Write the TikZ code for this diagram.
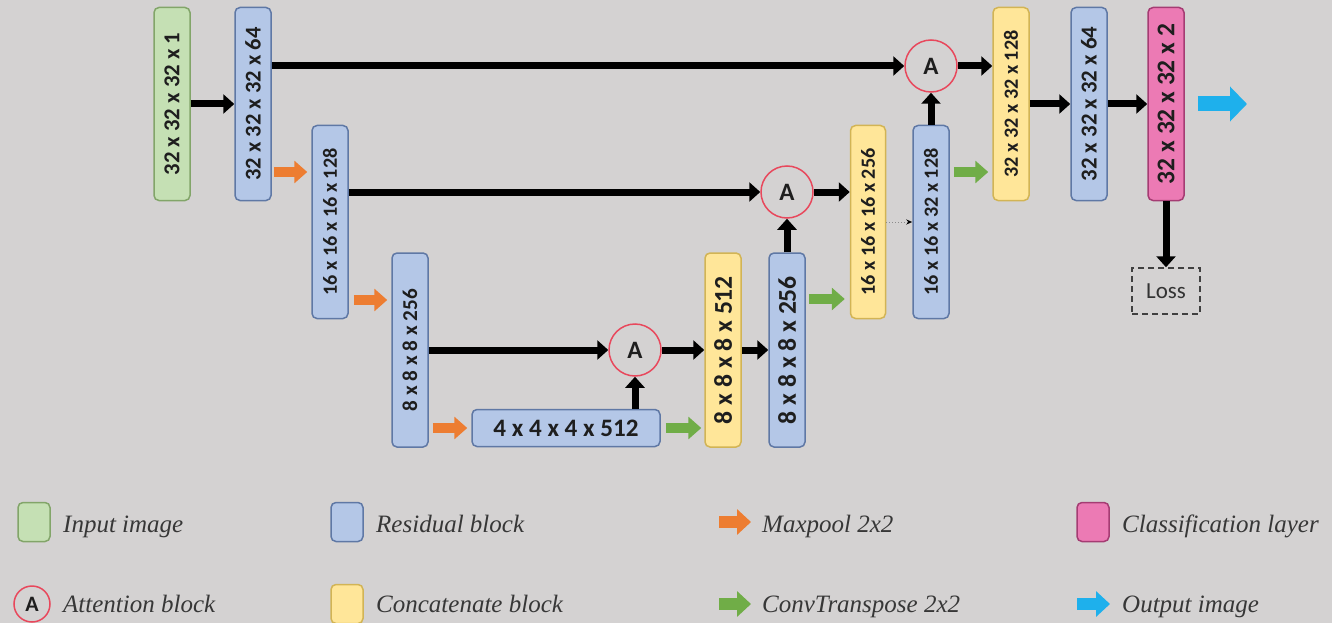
\documentclass[tikz,border=0pt]{standalone}
\usepackage{fontspec}
\setmainfont{Carlito}
\newfontfamily\legfont{Liberation Serif}
\usetikzlibrary{arrows.meta,calc}
\definecolor{bg}{RGB}{212,210,210}
\definecolor{gfill}{RGB}{197,224,180}
\definecolor{gdraw}{RGB}{130,165,105}
\definecolor{bfill}{RGB}{180,199,231}
\definecolor{bdraw}{RGB}{95,120,165}
\definecolor{yfill}{RGB}{255,230,153}
\definecolor{ydraw}{RGB}{210,180,85}
\definecolor{pfill}{RGB}{236,122,180}
\definecolor{pdraw}{RGB}{165,60,115}
\definecolor{ared}{RGB}{232,72,92}
\definecolor{orng}{RGB}{237,125,49}
\definecolor{grn}{RGB}{112,173,71}
\definecolor{cyn}{RGB}{30,176,236}
\definecolor{txt}{RGB}{30,30,30}
\definecolor{legtxt}{RGB}{55,55,55}
\newcommand\vt[2]{\rotatebox{90}{\resizebox{#1pt}{!}{\bfseries #2}}}
\tikzset{
  box/.style={draw, rounded corners=5pt, line width=1.5pt, minimum width=36pt, minimum height=193pt, inner sep=0pt, text=txt},
  gbox/.style={fill=gfill, draw=gdraw},
  bbox/.style={fill=bfill, draw=bdraw},
  ybox/.style={fill=yfill, draw=ydraw},
  pbox/.style={fill=pfill, draw=pdraw},
  att/.style={circle, draw=ared, line width=1.5pt, minimum size=52pt, inner sep=0pt, font=\bfseries\fontsize{25}{25}\selectfont, text=txt},
  blk/.style={line width=7pt, draw=black, -{Triangle[length=11pt,width=19pt]}},
  fat/.style={line width=10pt, draw=#1, -{Triangle[length=13pt,width=22pt]}},
  legarrow/.style={line width=12pt, draw=#1, -{Triangle[length=14pt,width=25pt]}},
  legsq/.style={draw, rounded corners=5pt, line width=1.5pt, minimum width=32pt, minimum height=39pt, inner sep=0pt},
  legtext/.style={anchor=base west, inner sep=0pt, text=legtxt, font=\legfont\itshape\fontsize{25}{25}\selectfont},
}
\begin{document}
\begin{tikzpicture}[x=1pt,y=-1pt]
\fill[bg] (0,0) rectangle (1332,623);
\useasboundingbox (0,0) rectangle (1332,623);

% blocks
\node[box,gbox] (in) at (172,104) {\vt{143}{32 x 32 x 32 x 1}};
\node[box,bbox] (r1) at (253,104) {\vt{153}{32 x 32 x 32 x 64}};
\node[box,bbox] (r2) at (330,222) {\vt{147}{16 x 16 x 16 x 128}};
\node[box,bbox,minimum height=194pt] (r3) at (410,350) {\vt{122}{8 x 8 x 8 x 256}};
\node[box,bbox,minimum width=188pt,minimum height=37pt] (r4) at (566,428) {\resizebox{145pt}{!}{\bfseries 4 x 4 x 4 x 512}};
\node[att] (a1) at (635,350) {A};
\node[box,ybox,minimum height=194pt] (c1) at (723,350) {\vt{148}{8 x 8 x 8 x 512}};
\node[box,bbox,minimum height=194pt] (r5) at (787,350) {\vt{148}{8 x 8 x 8 x 256}};
\node[att] (a2) at (787,192) {A};
\node[box,ybox,minimum width=35pt] (c2) at (868,222) {\vt{147}{16 x 16 x 16 x 256}};
\node[box,bbox] (r6) at (931,222) {\vt{147}{16 x 16 x 32 x 128}};
\node[att] (a3) at (931,66) {A};
\node[box,ybox] (c3) at (1011,104) {\vt{147}{32 x 32 x 32 x 128}};
\node[box,bbox] (r7) at (1089,104) {\vt{155}{32 x 32 x 32 x 64}};
\node[box,pbox] (p) at (1166,104) {\vt{160}{32 x 32 x 32 x 2}};
\node[draw=black!75, dashed, dash pattern=on 6pt off 4pt, line width=1.5pt, minimum width=68pt, minimum height=46pt, inner sep=0pt, text=black!80, font=\fontsize{23}{23}\selectfont] (loss) at (1166,291) {Loss};
\coordinate (out) at (1247,104);

% black connectors
\draw[blk] (in) -- (r1);
\draw[blk] (r1.east |- a3) -- (a3);
\draw[blk] (r2.east |- a2) -- (a2);
\draw[blk] (r3) -- (a1);
\draw[blk] (r4.north -| a1) -- (a1);
\draw[blk] (a1) -- (c1);
\draw[blk] (c1) -- (r5);
\draw[blk] (r5) -- (a2);
\draw[blk] (a2) -- (a2 -| c2.west);
\draw[line width=1pt, draw=black!45, dotted, -{Stealth[length=6pt,width=5pt,black]}] (c2) -- (r6);
\draw[blk] (r6) -- (a3);
\draw[blk] (a3) -- (a3 -| c3.west);
\draw[blk] (c3) -- (r7);
\draw[blk] (r7) -- (p);
\draw[blk] (p) -- (loss);

% maxpool arrows
\draw[fat=orng] ([xshift=2pt]r1.east |- 0,172) -- ([xshift=-4pt]r2.west |- 0,172);
\draw[fat=orng] ([xshift=5pt]r2.east |- 0,300) -- ([xshift=-4pt]r3.west |- 0,300);
\draw[fat=orng] ([xshift=4pt]r3.east |- 0,428) -- ([xshift=-4pt]r4.west |- 0,428);
% convtranspose arrows
\draw[fat=grn] ([xshift=5pt]r4.east |- 0,428) -- ([xshift=-3pt]c1.west |- 0,428);
\draw[fat=grn] ([xshift=3pt]r5.east |- 0,299) -- ([xshift=-5pt]c2.west |- 0,299);
\draw[fat=grn] ([xshift=4pt]r6.east |- 0,172) -- ([xshift=-4pt]c3.west |- 0,172);
% output
\draw[line width=15pt, draw=cyn, -{Triangle[length=17pt,width=34pt]}] ([xshift=13pt]p.east) -- (out);

% legend
\node[legsq,gbox] (lg1) at (34,522) {};
\node[legtext] (lt1) at (63,532) {Input image};
\node[legsq,bbox] (lg2) at (347,522) {};
\node[legtext] (lt2) at (376,532) {Residual block};
\coordinate (lo1) at (719,522);
\coordinate (lo2) at (751,522);
\draw[legarrow=orng] (lo1) -- (lo2);
\node[legtext] (lt3) at (762,532) {Maxpool 2x2};
\node[legsq,pbox] (lg4) at (1093,522) {};
\node[legtext] (lt4) at (1122,532) {Classification layer};

\node[att, minimum size=36pt, font=\bfseries\fontsize{22}{22}\selectfont] (lg5) at (32,604) {A};
\node[legtext] (lt5) at (63,612) {Attention block};
\node[legsq,ybox] (lg6) at (347,604) {};
\node[legtext] (lt6) at (376,612) {Concatenate block};
\coordinate (lc1) at (719,604);
\coordinate (lc2) at (751,604);
\draw[legarrow=grn] (lc1) -- (lc2);
\node[legtext] (lt7) at (762,612) {ConvTranspose 2x2};
\coordinate (lu1) at (1077,604);
\coordinate (lu2) at (1110,604);
\draw[legarrow=cyn] (lu1) -- (lu2);
\node[legtext] (lt8) at (1122,612) {Output image};
\end{tikzpicture}
\end{document}
